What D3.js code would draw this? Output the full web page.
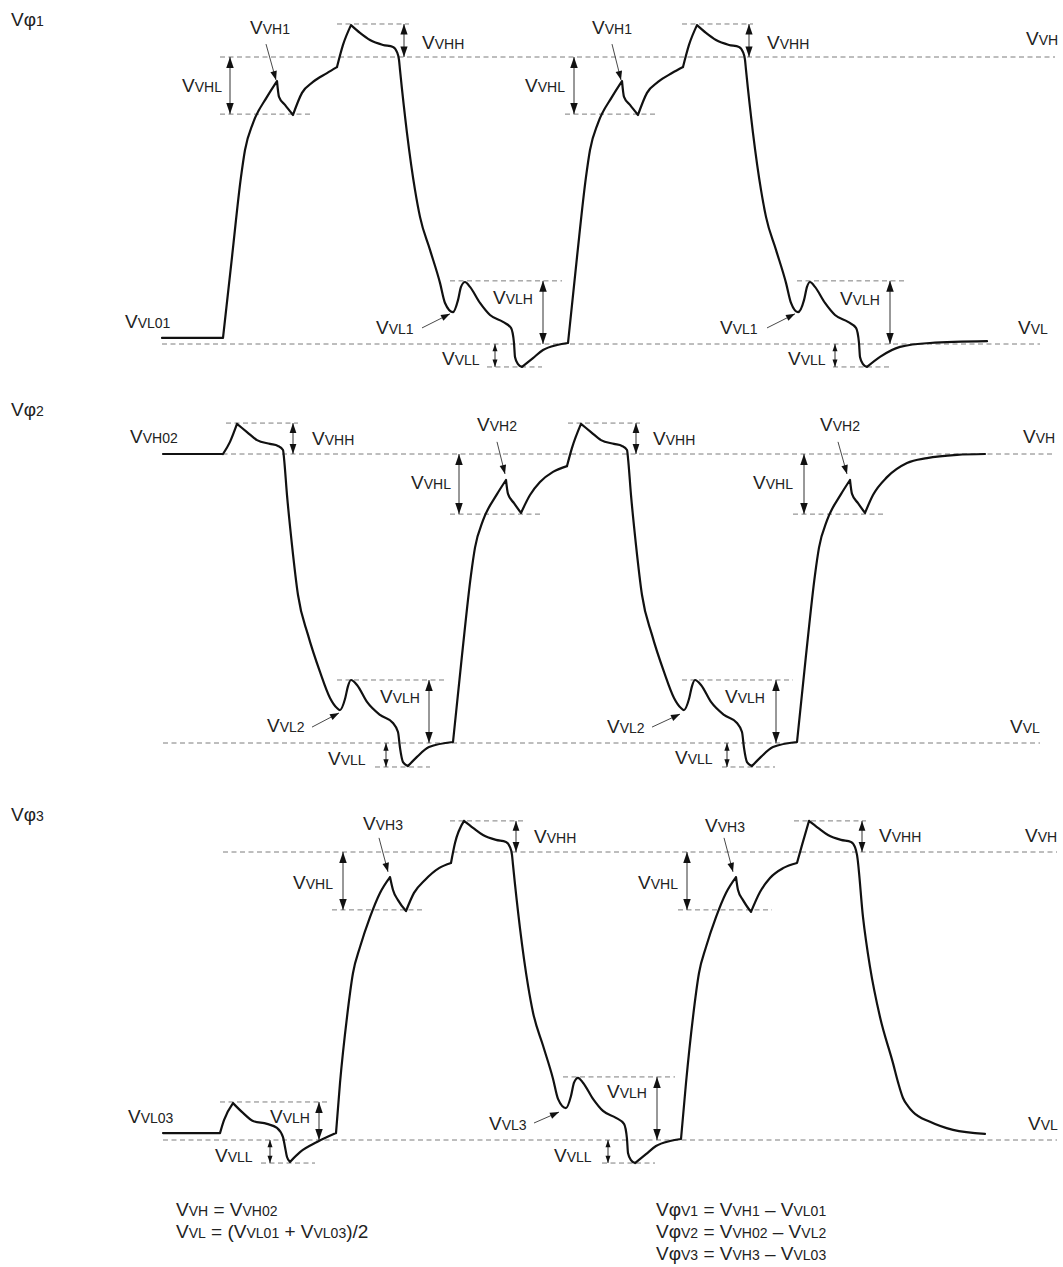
<!DOCTYPE html>
<html>
<head>
<meta charset="utf-8">
<script src="https://cdn.jsdelivr.net/npm/d3@7"></script>
<style>
  body { margin: 0; background: #fff; }
  text { font-family: "Liberation Sans", Arial, Helvetica, sans-serif; fill: #222; }
</style>
</head>
<body>
<div id="chart"></div>
<script>
// Time runs in arbitrary units along the shared horizontal axis.
// Voltage is given as % of the VL -> VH swing (VL = 0, VH = 100).
// Waveforms are lists of smooth pieces [t, v]; pieces meet at sharp corners.

const phi1Wave = [
  [[2, 2.1], [63, 2.1]],
  [[63, 2.1], [72, 30.3], [81, 58.2], [85, 67.6], [93, 77.0], [107, 86.1], [117, 91.6]],
  [[117, 91.6], [119, 86.1], [125, 83.3], [133, 79.8]],
  [[133, 79.8], [142, 87.5], [153, 91.3], [167, 94.4], [177, 96.5]],
  [[177, 96.5], [183, 104.2], [191, 111.1]],
  [[191, 111.1], [200, 108.4], [210, 105.9], [223, 104.2], [233, 103.5], [237, 101.7], [239, 99.0], [240, 95.5],
   [247, 73.5], [255, 53.7], [260, 44.3], [270, 32.8], [280, 21.3], [285, 14.3], [293, 11.1], [298, 15.3],
   [301, 19.9], [305, 21.6], [310, 19.9], [320, 14.3], [330, 10.1], [343, 7.7], [351, 5.6], [354, 0.35],
   [355, -4.5], [358, -7.0], [362, -8.0]],
  [[362, -8.0], [373, -4.9], [383, -2.1], [397, -0.35], [408, 0.35]],
  [[408, 0.35], [417, 30.3], [426, 58.2], [430, 67.6], [438, 77.0], [452, 86.1], [462, 91.6]],
  [[462, 91.6], [464, 86.1], [470, 83.3], [478, 79.8]],
  [[478, 79.8], [487, 87.5], [498, 91.3], [512, 94.4], [523, 96.5]],
  [[523, 96.5], [529, 104.2], [537, 111.1]],
  [[537, 111.1], [546, 108.4], [556, 105.9], [569, 104.2], [579, 103.5], [583, 101.7], [585, 99.0], [586, 95.5],
   [593, 73.5], [601, 53.7], [606, 44.3], [616, 32.8], [626, 21.3], [631, 14.3], [638, 11.1], [644, 15.3],
   [647, 19.9], [650, 21.6], [655, 19.9], [665, 14.3], [675, 10.1], [688, 7.7], [696, 5.6], [699, 0.35],
   [700, -4.5], [703, -7.0], [707, -8.0]],
  [[707, -8.0], [720, -4.5], [740, -1.0], [770, 0.35], [827, 1.0]]
];

const phi2Wave = [
  [[3, 100], [63, 100]],
  [[63, 100], [70, 104.2], [77, 110.4]],
  [[77, 110.4], [87, 107.6], [97, 104.8], [110, 103.5], [118, 102.8], [123, 101.4], [124, 98.6], [127, 85.8],
   [132, 68.5], [138, 51.2], [148, 37.4], [160, 24.6], [170, 15.6], [177, 12.1], [180, 11.4], [185, 15.2],
   [188, 19.7], [191, 21.8], [197, 20.1], [207, 14.2], [220, 9.7], [233, 6.9], [238, 3.8], [240, -1.7],
   [243, -6.6], [248, -8.0]],
  [[248, -8.0], [257, -4.8], [269, -1.4], [293, 0.35]],
  [[293, 0.35], [302, 30.3], [311, 58.2], [315, 67.6], [323, 77.0], [337, 86.1], [346, 91.0]],
  [[346, 91.0], [348, 86.2], [354, 83.0], [361, 79.6]],
  [[361, 79.6], [370, 85.8], [380, 90.3], [393, 93.8], [407, 95.8]],
  [[407, 95.8], [412, 102.1], [421, 110.4]],
  [[421, 110.4], [431, 107.6], [441, 104.8], [454, 103.5], [462, 102.8], [467, 101.4], [468, 98.6], [471, 85.8],
   [476, 68.5], [482, 51.2], [492, 37.4], [504, 24.6], [514, 15.6], [521, 12.1], [524, 11.4], [529, 15.2],
   [532, 19.7], [535, 21.8], [541, 20.1], [551, 14.2], [564, 9.7], [577, 6.9], [582, 3.8], [584, -1.7],
   [587, -6.6], [592, -8.0]],
  [[592, -8.0], [601, -4.8], [613, -1.4], [637, 0.35]],
  [[637, 0.35], [646, 30.3], [655, 58.2], [659, 67.6], [667, 77.0], [681, 86.1], [690, 91.0]],
  [[690, 91.0], [692, 86.2], [698, 83.0], [705, 79.6]],
  [[705, 79.6], [713, 85.8], [727, 92.0], [747, 96.9], [767, 98.6], [797, 99.7], [825, 100]]
];

const phi3Wave = [
  [[3, 2.4], [60, 2.4]],
  [[60, 2.4], [64, 6.9], [73, 12.8]],
  [[73, 12.8], [83, 9.4], [93, 6.6], [107, 5.6], [117, 4.2], [123, 1.0], [125, -2.4], [127, -5.9], [130, -7.6]],
  [[130, -7.6], [140, -4.2], [157, -0.7], [176, 2.4]],
  [[176, 2.4], [180, 19.8], [187, 42.7], [193, 58.0], [200, 67.0], [210, 77.4], [220, 85.8], [230, 91.3]],
  [[230, 91.3], [233, 86.8], [238, 83.3], [246, 79.5]],
  [[246, 79.5], [254, 85.8], [265, 90.3], [279, 94.4], [291, 96.2]],
  [[291, 96.2], [295, 103.1], [304, 110.8]],
  [[304, 110.8], [313, 108.4], [323, 105.9], [336, 104.2], [346, 103.5], [350, 101.7], [352, 99.0], [353, 95.5],
   [360, 73.5], [368, 53.7], [373, 44.3], [383, 32.8], [393, 21.3], [398, 14.3], [406, 11.1], [411, 15.3],
   [414, 19.9], [418, 21.6], [423, 19.9], [433, 14.3], [443, 10.1], [456, 7.7], [464, 5.6], [467, 0.35],
   [468, -4.5], [471, -7.0], [475, -8.0]],
  [[475, -8.0], [486, -4.9], [496, -2.1], [510, -0.35], [521, 0.35]],
  [[521, 0.35], [526, 19.8], [533, 42.7], [539, 58.0], [546, 67.0], [556, 77.4], [566, 85.8], [576, 91.3]],
  [[576, 91.3], [578, 86.8], [583, 83.3], [591, 79.2]],
  [[591, 79.2], [600, 86.1], [610, 91.0], [623, 94.4], [637, 96.2]],
  [[637, 96.2], [642, 102.4], [649, 110.8]],
  [[649, 110.8], [658, 108.4], [668, 105.9], [681, 104.2], [691, 103.5], [695, 101.7], [697, 99.0], [703, 77.4],
   [710, 60.1], [720, 42.7], [733, 26.7], [738, 20.1], [743, 14.6], [748, 11.8], [753, 9.7], [770, 6.3],
   [793, 3.5], [825, 2.1]]
];

// dashed reference levels: [v, tStart, tEnd]
const phi1Guides = [[100, 60, 895], [0, 2, 880], [80.1, 60, 152], [80.1, 405, 498], [111.5, 177, 249],
  [111.5, 522, 593], [22.0, 290, 402], [22.0, 637, 747], [-8.0, 327, 382], [-8.0, 673, 730]];
const phi2Guides = [[100, 3, 895], [0, 3, 880], [110.7, 66, 138], [110.7, 408, 480], [79.2, 290, 383],
  [79.2, 633, 725], [21.8, 177, 286], [21.8, 522, 633], [-8.3, 215, 270], [-8.3, 562, 615]];
const phi3Guides = [[100, 63, 897], [0, 3, 897], [13.2, 60, 170], [21.9, 403, 515], [-8.0, 101, 155],
  [-8.0, 442, 495], [79.9, 172, 265], [79.9, 518, 612], [110.8, 290, 363], [110.8, 634, 706]];

// double-headed dimension arrows: [t, vFrom, vTo]
const phi1Dims = [[70, 100, 80.1], [414, 100, 80.1], [244, 111.5, 100], [589, 111.5, 100],
  [383, 22, 0], [730, 22, 0], [335, 0, -8], [675, 0, -8]];
const phi2Dims = [[133, 110.7, 100], [476, 110.7, 100], [299, 100, 79.2], [644, 100, 79.2],
  [269, 21.8, 0], [616, 21.8, 0], [226, 0, -8.3], [567, 0, -8.3]];
const phi3Dims = [[159, 13.2, 0], [497, 21.9, 0], [110, 0, -8], [448, 0, -8],
  [183, 100, 79.9], [527, 100, 79.9], [356, 110.8, 100], [702, 110.8, 100]];

// leader arrows: [t0, v0, t1, v1]  (head at t1, v1)
const phi1Pointers = [[106, 104.5, 116, 92], [452, 104.5, 461, 92], [262, 5.6, 290, 10.5], [607, 5.6, 635, 10.5]];
const phi2Pointers = [[337, 104.2, 345, 93.1], [678, 104.2, 687, 93.1], [152, 5.5, 179, 10.4], [492, 5.5, 520, 10.0]];
const phi3Pointers = [[219, 104.9, 228, 93.1], [564, 104.9, 573, 93.1], [374, 5.9, 399, 9.7]];

// labels: [text, t, v]   ( _{..} = small letters )
const phi1Labels = [["V_{VH1}", 90, 108], ["V_{VH1}", 432, 108], ["V_{VHL}", 22, 87.8], ["V_{VHL}", 365, 87.8],
  ["V_{VHH}", 262, 102.8], ["V_{VHH}", 607, 102.8], ["V_{VH}", 866, 104.2], ["V_{VL01}", -35, 5.6],
  ["V_{VL1}", 216, 3.5], ["V_{VL1}", 560, 3.5], ["V_{VLH}", 333, 13.9], ["V_{VLH}", 680, 13.6],
  ["V_{VLL}", 282, -7.3], ["V_{VLL}", 628, -7.3], ["V_{VL}", 858, 3.5]];
const phi2Labels = [["V_{VH02}", -30, 103.8], ["V_{VHH}", 152, 103.1], ["V_{VHH}", 493, 103.1],
  ["V_{VH2}", 317, 108], ["V_{VH2}", 660, 108], ["V_{VHL}", 251, 88], ["V_{VHL}", 593, 88],
  ["V_{VH}", 863, 103.8], ["V_{VL2}", 107, 3.8], ["V_{VL2}", 447, 3.5], ["V_{VLH}", 220, 13.8],
  ["V_{VLH}", 565, 13.8], ["V_{VLL}", 168, -7.6], ["V_{VLL}", 515, -7.3], ["V_{VL}", 850, 3.5]];
const phi3Labels = [["V_{VL03}", -32, 5.9], ["V_{VLH}", 110, 5.9], ["V_{VLH}", 447, 14.6], ["V_{VLL}", 55, -7.6],
  ["V_{VLL}", 394, -7.6], ["V_{VH3}", 203, 107.6], ["V_{VH3}", 545, 106.9], ["V_{VHL}", 133, 87.2],
  ["V_{VHL}", 478, 87.2], ["V_{VHH}", 374, 103.1], ["V_{VHH}", 719, 103.5], ["V_{VH}", 865, 103.5],
  ["V_{VL3}", 329, 3.5], ["V_{VL}", 868, 3.5]];

const titles = ["Vφ_{1}", "Vφ_{2}", "Vφ_{3}"];
const leftFormulas = ["V_{VH} = V_{VH02}", "V_{VL} = (V_{VL01} + V_{VL03})/2"];
const rightFormulas = ["Vφ_{V1} = V_{VH1} – V_{VL01}", "Vφ_{V2} = V_{VH02} – V_{VL2}", "Vφ_{V3} = V_{VH3} – V_{VL03}"];

// ---- layout ----
const width = 1063, height = 1267;
const bigSize = 19, smallSize = 14;
const panels = [
  { wave: phi1Wave, guides: phi1Guides, dims: phi1Dims, pointers: phi1Pointers, labels: phi1Labels, vl: 344, vh: 57, titleY: 26 },
  { wave: phi2Wave, guides: phi2Guides, dims: phi2Dims, pointers: phi2Pointers, labels: phi2Labels, vl: 743, vh: 454, titleY: 416 },
  { wave: phi3Wave, guides: phi3Guides, dims: phi3Dims, pointers: phi3Pointers, labels: phi3Labels, vl: 1140, vh: 852, titleY: 821 }
];

const svg = d3.select("#chart").append("svg")
  .attr("width", width)
  .attr("height", height);

const x = d3.scaleLinear().domain([0, 900]).range([160, 1060]);

// write "V_{VH1}" style text: plain parts big, _{..} parts small
function richText(sel, str) {
  const parts = str.split(/_\{([^}]*)\}/);
  parts.forEach((p, i) => {
    if (p === "") return;
    sel.append("tspan")
      .attr("font-size", i % 2 ? smallSize : bigSize)
      .text(p);
  });
}

function headPath(x1, y1, x2, y2, len, half) {
  const dx = x2 - x1, dy = y2 - y1;
  const d = Math.hypot(dx, dy);
  const ux = dx / d, uy = dy / d;
  const bx = x2 - ux * len, by = y2 - uy * len;
  return `M${x2},${y2}L${bx - uy * half},${by + ux * half}L${bx + uy * half},${by - ux * half}Z`;
}

panels.forEach((p, k) => {
  const y = d3.scaleLinear().domain([0, 100]).range([p.vl, p.vh]);
  const g = svg.append("g");

  // dashed levels
  g.selectAll("line.guide")
    .data(p.guides)
    .enter().append("line")
    .attr("class", "guide")
    .attr("x1", d => x(d[1]))
    .attr("x2", d => x(d[2]))
    .attr("y1", d => y(d[0]))
    .attr("y2", d => y(d[0]))
    .attr("stroke", "#7d7d7d")
    .attr("stroke-width", 1)
    .attr("stroke-dasharray", "5,3.5");

  // waveform
  const line = d3.line()
    .x(d => x(d[0]))
    .y(d => y(d[1]))
    .curve(d3.curveMonotoneX);
  g.append("path")
    .attr("d", p.wave.map(seg => line(seg)).join(""))
    .attr("fill", "none")
    .attr("stroke", "#111")
    .attr("stroke-width", 2.2)
    .attr("stroke-linejoin", "round")
    .attr("stroke-linecap", "round");

  // dimension arrows
  p.dims.forEach(d => {
    const xx = x(d[0]), ya = y(d[1]), yb = y(d[2]);
    const len = Math.min(11, Math.abs(yb - ya) * 0.32), half = len * 0.34;
    g.append("line")
      .attr("x1", xx).attr("x2", xx)
      .attr("y1", ya).attr("y2", yb)
      .attr("stroke", "#333").attr("stroke-width", 1);
    g.append("path").attr("d", headPath(xx, yb, xx, ya, len, half)).attr("fill", "#111");
    g.append("path").attr("d", headPath(xx, ya, xx, yb, len, half)).attr("fill", "#111");
  });

  // leader arrows
  p.pointers.forEach(d => {
    const x1 = x(d[0]), y1 = y(d[1]), x2 = x(d[2]), y2 = y(d[3]);
    g.append("line")
      .attr("x1", x1).attr("y1", y1).attr("x2", x2).attr("y2", y2)
      .attr("stroke", "#333").attr("stroke-width", 0.9);
    g.append("path").attr("d", headPath(x1, y1, x2, y2, 9, 3.3)).attr("fill", "#111");
  });

  // labels
  p.labels.forEach(d => {
    const t = g.append("text").attr("x", x(d[1])).attr("y", y(d[2]));
    richText(t, d[0]);
  });

  // panel title
  richText(svg.append("text").attr("x", 11).attr("y", p.titleY), titles[k]);
});

// definitions under the chart
leftFormulas.forEach((f, i) => {
  richText(svg.append("text").attr("x", 176).attr("y", 1216 + i * 22), f);
});
rightFormulas.forEach((f, i) => {
  richText(svg.append("text").attr("x", 656).attr("y", 1216 + i * 22), f);
});
</script>
</body>
</html>
